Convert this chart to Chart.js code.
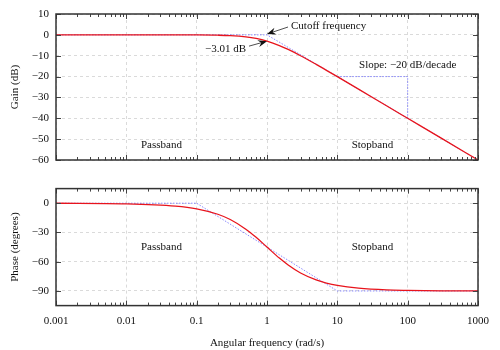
<!DOCTYPE html>
<html>
<head>
<meta charset="utf-8">
<script src="https://cdn.jsdelivr.net/npm/chart.js@4.4.1/dist/chart.umd.min.js"></script>
<style>
  body { margin: 0; background: #fff; }
  #wrap { position: relative; width: 500px; height: 350px; }
  canvas { position: absolute; left: 0; }
  #gain { top: 0; }
  #phase { top: 175px; }
</style>
</head>
<body>
<div id="wrap">
  <canvas id="gain" width="500" height="175"></canvas>
  <canvas id="phase" width="500" height="175"></canvas>
</div>
<script>
// values
const freq  = [0.001, 0.01, 0.05, 0.1, 0.2, 0.3, 0.5, 0.7, 1, 1.5, 2, 3, 5, 7, 10, 20, 50, 100, 300, 1000];
const gain  = [0, 0, -0.01, -0.04, -0.17, -0.37, -0.97, -1.73, -3.01, -5.12, -6.99, -10.0, -14.15, -17.0, -20.04, -26.0, -34.0, -40.0, -49.5, -60.0];
const phase = [0, -0.6, -2.9, -5.7, -11.3, -16.7, -26.6, -35.0, -45.0, -56.3, -63.4, -71.6, -78.7, -81.9, -84.3, -87.1, -88.9, -89.4, -89.8, -89.9];

// asymptotes
const gainAsymX  = [0.001, 1, 1000];
const gainAsymY  = [0, 0, -60];
const slopeX     = [10, 100, 100];
const slopeY     = [-20, -20, -40];
const phaseAsymX = [0.001, 0.1, 10, 1000];
const phaseAsymY = [0, 0, -90, -90];

const decades   = [0.001, 0.01, 0.1, 1, 10, 100, 1000];
const decLabels = ["0.001", "0.01", "0.1", "1", "10", "100", "1000"];
const gainTicks  = [10, 0, -10, -20, -30, -40, -50, -60];
const phaseTicks = [0, -30, -60, -90];

const FONT = "'Liberation Serif', 'DejaVu Serif', serif";
const RED = "#e8141c";
const BLUE = "#6b6bff";

const pts = (xs, ys) => xs.map((x, i) => ({ x: x, y: ys[i] }));
const minus = v => String(v).replace("-", "\u2212");

// frame + inward ticks
const framePlugin = {
  id: "frame",
  afterDraw(chart) {
    const c = chart.ctx, a = chart.chartArea;
    const xs = chart.scales.x, ys = chart.scales.y;
    c.save();
    c.strokeStyle = "#444";
    c.lineWidth = 1;
    c.beginPath();
    for (let d = 0; d < decades.length; d++) {
      for (let m = 1; m < 10; m++) {
        const v = decades[d] * m;
        if (v > 1000) break;
        const px = Math.round(xs.getPixelForValue(v)) + 0.5;
        const len = m === 1 ? 5 : 3;
        c.moveTo(px, a.top); c.lineTo(px, a.top + len);
        c.moveTo(px, a.bottom); c.lineTo(px, a.bottom - len);
      }
    }
    ys.ticks.forEach(t => {
      const py = Math.round(ys.getPixelForValue(t.value)) + 0.5;
      c.moveTo(a.left, py); c.lineTo(a.left + 5, py);
      c.moveTo(a.right, py); c.lineTo(a.right - 5, py);
    });
    c.stroke();
    c.lineWidth = 1.5;
    c.strokeStyle = "#333";
    c.strokeRect(a.left, a.top, a.right - a.left, a.bottom - a.top);
    c.restore();
  }
};

function arrow(c, x1, y1, x2, y2) {
  const ang = Math.atan2(y2 - y1, x2 - x1);
  c.beginPath();
  c.moveTo(x1, y1);
  c.lineTo(x2 - 6 * Math.cos(ang), y2 - 6 * Math.sin(ang));
  c.stroke();
  c.beginPath();
  c.moveTo(x2, y2);
  c.lineTo(x2 - 9 * Math.cos(ang) + 3.5 * Math.sin(ang), y2 - 9 * Math.sin(ang) - 3.5 * Math.cos(ang));
  c.lineTo(x2 - 6 * Math.cos(ang), y2 - 6 * Math.sin(ang));
  c.lineTo(x2 - 9 * Math.cos(ang) - 3.5 * Math.sin(ang), y2 - 9 * Math.sin(ang) + 3.5 * Math.cos(ang));
  c.closePath();
  c.fill();
}

function labelsPlugin(items, arrows) {
  return {
    id: "labels",
    afterDatasetsDraw(chart) {
      const c = chart.ctx, xs = chart.scales.x, ys = chart.scales.y;
      c.save();
      c.fillStyle = "#111";
      c.strokeStyle = "#222";
      c.lineWidth = 0.8;
      c.font = "11px " + FONT;
      c.textBaseline = "middle";
      items.forEach(it => {
        c.textAlign = it.align || "center";
        c.fillText(it.text, xs.getPixelForValue(it.x) + (it.dx || 0), ys.getPixelForValue(it.y) + (it.dy || 0));
      });
      (arrows || []).forEach(ar => {
        const tx = xs.getPixelForValue(ar.x), ty = ys.getPixelForValue(ar.y);
        arrow(c, tx + ar.fx, ty + ar.fy, tx, ty);
      });
      c.restore();
    }
  };
}

function makeChart(id, sets, yMin, yMax, yTicks, yTitle, showX, padTop, padBottom, plugins) {
  return new Chart(document.getElementById(id), {
    type: "line",
    data: { datasets: sets },
    options: {
      responsive: false,
      animation: false,
      events: [],
      layout: { padding: { left: 0, right: 22, top: padTop, bottom: padBottom } },
      plugins: { legend: { display: false }, tooltip: { enabled: false } },
      elements: { point: { radius: 0 } },
      scales: {
        x: {
          type: "logarithmic",
          min: 0.001, max: 1000,
          afterBuildTicks: s => { s.ticks = decades.map(v => ({ value: v })); },
          ticks: {
            display: showX,
            maxRotation: 0,
            autoSkip: false,
            padding: 9,
            color: "#111",
            font: { family: FONT, size: 11 },
            callback: v => decLabels[decades.indexOf(v)]
          },
          grid: { color: "#dadada", drawTicks: false },
          border: { display: false, dash: [3, 3] },
          title: {
            display: showX,
            text: "Angular frequency (rad/s)",
            color: "#111",
            font: { family: FONT, size: 11 },
            padding: { top: 0, bottom: 0 }
          }
        },
        y: {
          min: yMin, max: yMax,
          afterBuildTicks: s => { s.ticks = yTicks.map(v => ({ value: v })); },
          afterFit: s => { s.width = 56; },
          ticks: {
            padding: 7,
            color: "#111",
            font: { family: FONT, size: 11 },
            callback: v => minus(v)
          },
          grid: { color: "#dadada", drawTicks: false },
          border: { display: false, dash: [3, 3] },
          title: {
            display: true,
            text: yTitle,
            color: "#111",
            font: { family: FONT, size: 11 },
            padding: { top: 9, bottom: 0 }
          }
        }
      }
    },
    plugins: [framePlugin].concat(plugins)
  });
}

const lineSet = (xs, ys) => ({
  data: pts(xs, ys), borderColor: RED, borderWidth: 1.3,
  cubicInterpolationMode: "monotone", fill: false
});
const asymSet = (xs, ys) => ({
  data: pts(xs, ys), borderColor: BLUE, borderWidth: 0.8,
  borderDash: [1.5, 1.5], tension: 0, fill: false
});

makeChart("gain",
  [lineSet(freq, gain), asymSet(gainAsymX, gainAsymY), asymSet(slopeX, slopeY)],
  -60, 10, gainTicks, "Gain (dB)", false, 14, 15,
  [labelsPlugin([
    { text: "Cutoff frequency", x: 1, y: 0, dx: 24, dy: -9, align: "left" },
    { text: "\u22123.01 dB", x: 1, y: -3.01, dx: -21, dy: 8, align: "right" },
    { text: "Slope: \u221220 dB/decade", x: 100, y: -20, dy: -11 },
    { text: "Passband", x: 0.0316, y: -53 },
    { text: "Stopband", x: 31.6, y: -53 }
  ], [
    { x: 1, y: 0.4, fx: 21, fy: -7 },
    { x: 1, y: -3.01, fx: -18, fy: 5 }
  ])]);

makeChart("phase",
  [lineSet(freq, phase), asymSet(phaseAsymX, phaseAsymY)],
  -105, 15, phaseTicks, "Phase (degrees)", true, 13, 0,
  [labelsPlugin([
    { text: "Passband", x: 0.0316, y: -45 },
    { text: "Stopband", x: 31.6, y: -45 }
  ])]);
</script>
</body>
</html>
